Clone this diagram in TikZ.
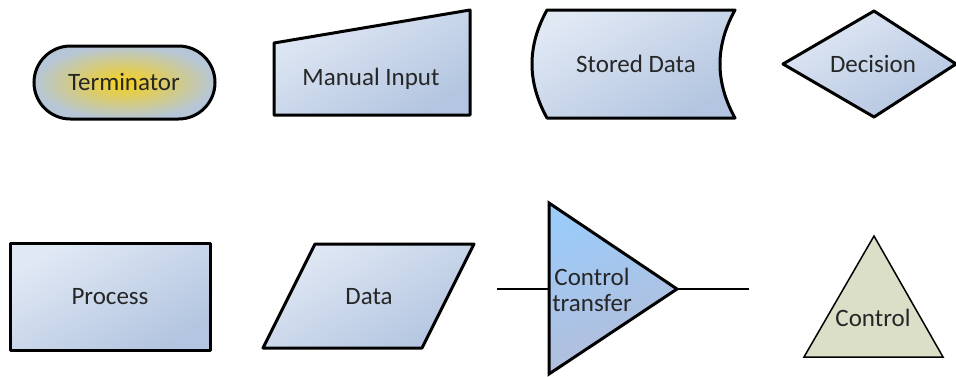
\documentclass[tikz,border=0pt]{standalone}
\usepackage{fontspec}
\setmainfont{Carlito}
\definecolor{bluelight}{HTML}{E0E8F4}
\definecolor{bluedark}{HTML}{B3C5E0}
\definecolor{ctlight}{HTML}{9BCBF9}
\definecolor{ctdark}{HTML}{B5BDD8}
\definecolor{termin}{HTML}{F6D01A}
\definecolor{termout}{HTML}{B6C6D6}
\definecolor{olive}{HTML}{DCDFC8}
\definecolor{txt}{HTML}{262626}
\tikzset{
  shapebox/.style={draw=black, line width=3pt, line join=round,
    top color=bluelight, bottom color=bluedark, shading angle=30},
  label/.style={text=txt, font=\fontsize{25}{29}\selectfont, inner sep=0pt, align=center},
  conn/.style={draw=black, line width=2.5pt}
}
\begin{document}
\begin{tikzpicture}[x=1pt,y=-1pt]
\useasboundingbox (0,0) rectangle (956,376);
\begin{scope}
\clip (0,0) rectangle (956,376);
% Terminator
\path[draw=black, line width=3pt, shading=radial, inner color=termin, outer color=termout]
  (70.5,46) -- (178.5,46) arc[start angle=90, end angle=-90, x radius=36.5, y radius=-36.5]
  -- (70.5,119) arc[start angle=-90, end angle=-270, x radius=36.5, y radius=-36.5] -- cycle;
\node[label] (term) at (124,82) {Terminator};
% Manual input
\path[shapebox] (274,115) -- (274,43) -- (470,10) -- (470,115) -- cycle;
\node[label] (manual) at (371,79) {Manual Input};
% Stored data
\path[shapebox] (547,10) -- (735,10) .. controls (715,46) and (715,82) .. (735,118) -- (547,118) .. controls (527,82) and (527,46) .. (547,10) -- cycle;
\node[label] (stored) at (636,64) {Stored Data};
% Decision
\path[shapebox] (783,64) -- (874,11) -- (956,64) -- (874,117) -- cycle;
\node[label] (decision) at (873,64) {Decision};
% Process
\path[shapebox] (10,243) rectangle (210,350);
\node[label] (process) at (110,297) {Process};
% Data
\path[shapebox] (315,244) -- (474,244) -- (422,348) -- (263,348) -- cycle;
\node[label] (data) at (369,297) {Data};
% Control transfer
\coordinate (ctin) at (497,289);
\coordinate (ctleft) at (549,289);
\coordinate (cttip) at (677,289);
\coordinate (ctout) at (749,289);
\draw[conn] (ctin) -- (ctleft);
\draw[conn] (cttip) -- (ctout);
\path[draw=black, line width=3pt, line join=miter, top color=ctlight, bottom color=ctdark, shading angle=20]
  (549,203) -- (cttip) -- (549,374) -- cycle;
\node[label, text width=90pt] (ct) at (592,290) {Control\\[-3pt]transfer};
% Control
\path[draw=black, line width=1.5pt, fill=olive] (874,236) -- (943,357) -- (804,357) -- cycle;
\node[label] (control) at (873,318) {Control};
\end{scope}
\end{tikzpicture}
\end{document}
